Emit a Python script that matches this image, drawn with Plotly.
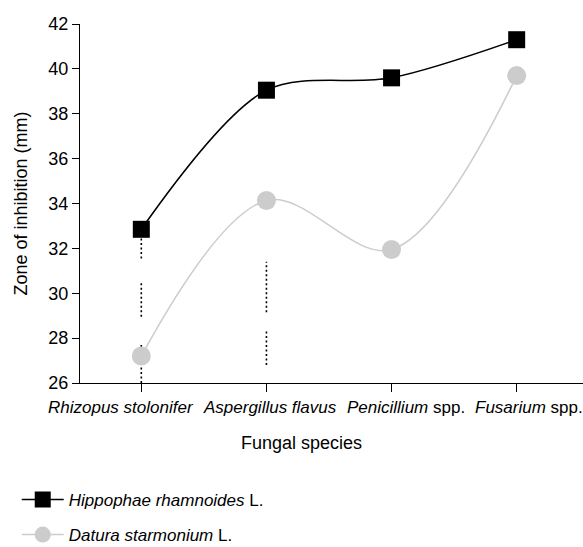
import plotly.graph_objects as go

# ---- data ----
categories = ["<i>Rhizopus stolonifer</i>", "<i>Aspergillus flavus</i>",
              "<i>Penicillium</i> spp.", "<i>Fusarium</i> spp."]
hippophae = [32.85, 39.05, 39.6, 41.3]
datura = [27.2, 34.13, 31.95, 39.7]
series_names = ["<i>Hippophae rhamnoides</i> L.", "<i>Datura starmonium</i> L."]
y_ticks = [26, 28, 30, 32, 34, 36, 38, 40, 42]
# dotted vertical segments (category index, low, high)
seg_cat = [0, 0, 0, 1, 1]
seg_low = [31.55, 28.95, 25.8, 29.15, 26.8]
seg_high = [32.5, 30.5, 27.75, 31.4, 28.3]

# ---- styles ----
FONT = "Arial, Liberation Sans, sans-serif"
label_shift = [-20, 4, 14, 12]

xi = list(range(len(categories)))

seg_x, seg_y = [], []
for c, lo, hi in zip(seg_cat, seg_low, seg_high):
    seg_x += [c, c, None]
    seg_y += [lo, hi, None]

fig = go.Figure()
fig.add_trace(go.Scatter(
    x=seg_x, y=seg_y, mode="lines", showlegend=False, hoverinfo="skip",
    line=dict(color="black", width=1.6, dash="2px,2.5px")))
fig.add_trace(go.Scatter(
    x=xi, y=datura, name=series_names[1], mode="lines+markers",
    legendgroup="b", legendrank=2,
    line=dict(color="#cccccc", width=1.5, shape="spline", smoothing=1.0),
    marker=dict(symbol="circle", size=19, color="#cccccc")))
fig.add_trace(go.Scatter(
    x=xi, y=hippophae, name=series_names[0], mode="lines+markers",
    legendgroup="a", legendrank=1,
    line=dict(color="black", width=1.5, shape="spline", smoothing=0.9),
    marker=dict(symbol="square", size=17, color="black")))

for i, (cat, sh) in enumerate(zip(categories, label_shift)):
    fig.add_annotation(x=i, y=0, xref="x", yref="paper", yanchor="top",
                       text=cat, showarrow=False, xshift=sh, yshift=-13,
                       font=dict(family=FONT, size=17, color="black"))

fig.add_annotation(x=0.441, y=0, xref="paper", yref="paper", yanchor="top",
                   text="Fungal species", showarrow=False, yshift=-48,
                   font=dict(family=FONT, size=18, color="black"))

fig.add_annotation(x=0, y=0.5, xref="paper", yref="paper",
                   xanchor="center", yanchor="middle", textangle=-90,
                   text="Zone of inhibition (mm)", showarrow=False, xshift=-60,
                   font=dict(family=FONT, size=18, color="black"))

fig.update_layout(
    width=583, height=547,
    margin=dict(l=80, r=0, t=24, b=164, autoexpand=False),
    paper_bgcolor="white", plot_bgcolor="white",
    font=dict(family=FONT, size=17, color="black"),
    showlegend=True,
    legend=dict(x=0.0287, y=0.119, xref="container", yref="container",
                xanchor="left", yanchor="top", traceorder="grouped",
                tracegroupgap=10, itemwidth=42,
                font=dict(family=FONT, size=17, color="black"),
                bgcolor="rgba(0,0,0,0)"),
    xaxis=dict(range=[-0.49, 3.53], tickvals=xi, showticklabels=False,
               showline=True, linecolor="black", linewidth=1.3,
               ticks="outside", ticklen=8, tickwidth=1.3, tickcolor="black",
               showgrid=False, zeroline=False, fixedrange=True),
    yaxis=dict(range=[26, 42], tickvals=y_ticks,
               showline=True, linecolor="black", linewidth=1.3,
               ticks="outside", ticklen=7, tickwidth=1.3, tickcolor="black",
               showgrid=False, zeroline=False,
               tickfont=dict(family=FONT, size=18, color="black")),
)

fig.write_html("out.html",
               config={"displayModeBar": False},
               post_script="document.body.style.margin='0px';"
                           "document.body.style.overflow='hidden';")
